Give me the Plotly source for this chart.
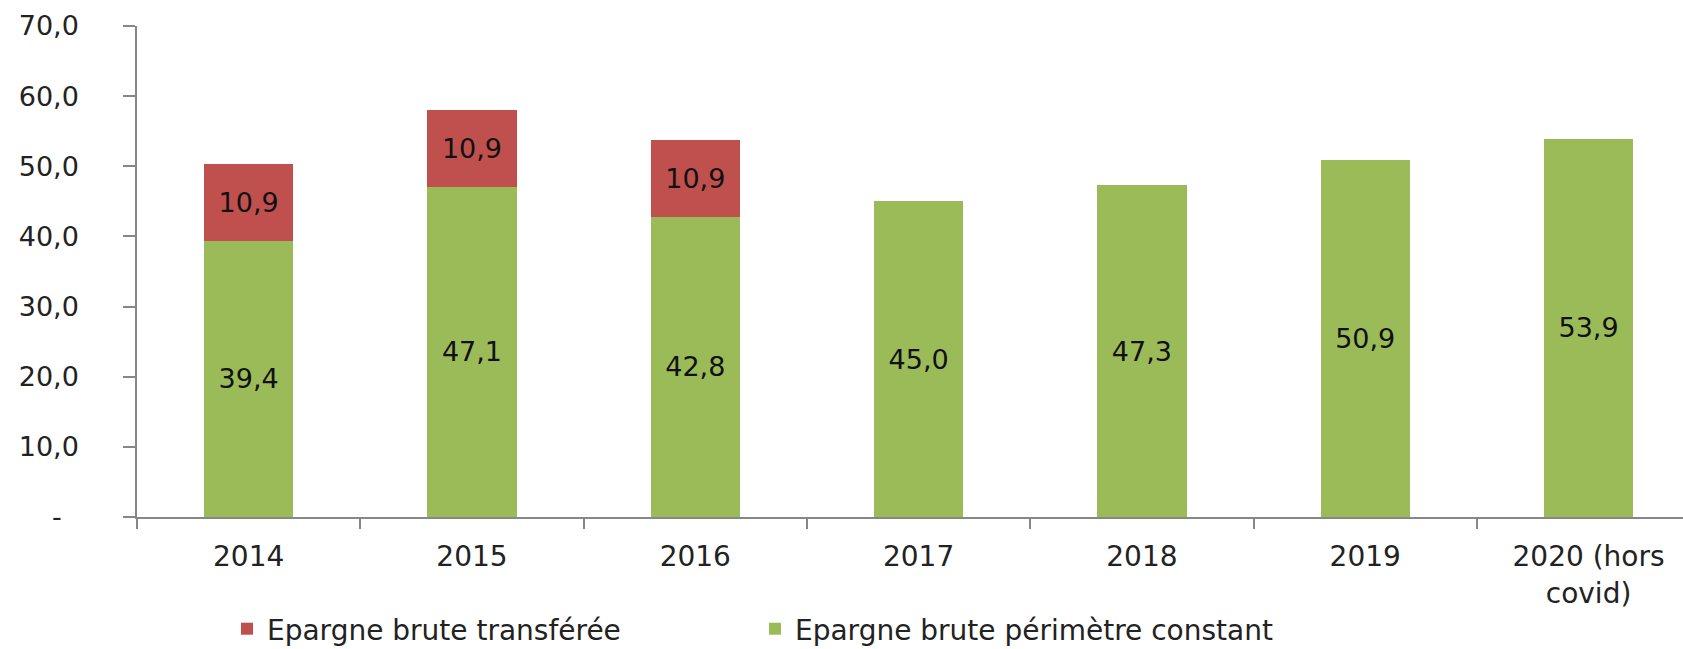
import plotly.graph_objects as go

categories = ["2014", "2015", "2016", "2017", "2018", "2019", "2020 (hors<br>covid)"]
constant_values = [39.4, 47.1, 42.8, 45.0, 47.3, 50.9, 53.9]
transferred_values = [10.9, 10.9, 10.9, None, None, None, None]
y_tick_values = [0, 10, 20, 30, 40, 50, 60, 70]
y_tick_labels = ["-\u00a0\u00a0", "10,0", "20,0", "30,0", "40,0", "50,0", "60,0", "70,0"]

GREEN = "#9BBB59"
RED = "#C0504D"
FONT = "DejaVu Sans"
AXIS = "#878787"

fig = go.Figure()
fig.add_trace(go.Bar(
    x=categories, y=constant_values, name="Epargne brute périmètre constant",
    marker=dict(color=GREEN, line=dict(width=0)),
    texttemplate="%{y:.1f}", textposition="inside", insidetextanchor="middle",
    textangle=0, constraintext="none",
    textfont=dict(family=FONT, size=27, color="#111111"),
))
fig.add_trace(go.Bar(
    x=categories, y=transferred_values, name="Epargne brute transférée",
    marker=dict(color=RED, line=dict(width=0)),
    texttemplate="%{y:.1f}", textposition="inside", insidetextanchor="middle",
    textangle=0, constraintext="none",
    textfont=dict(family=FONT, size=27, color="#111111"),
))

fig.update_layout(
    width=1683, height=649,
    barmode="stack", bargap=0.6,
    separators=", ",
    plot_bgcolor="white", paper_bgcolor="white",
    margin=dict(l=137, r=0, t=26, b=132, autoexpand=False),
    font=dict(family=FONT, size=27, color="#222222"),
    showlegend=True,
    legend=dict(
        orientation="h", traceorder="reversed",
        xref="container", yref="container",
        x=227 / 1683, xanchor="left",
        y=1 - 629 / 649, yanchor="middle",
        font=dict(family=FONT, size=28, color="#222222"),
        entrywidth=483, entrywidthmode="pixels",
        bgcolor="rgba(0,0,0,0)",
    ),
    xaxis=dict(
        range=[-0.5, 6.423], showline=True, linecolor=AXIS, linewidth=1.5,
        ticks="outside", tickson="boundaries", ticklen=10, tickcolor=AXIS, tickwidth=1.5,
        tickfont=dict(family=FONT, size=28, color="#222222"),
        ticklabelstandoff=14,
        showgrid=False, zeroline=False, fixedrange=True,
    ),
    yaxis=dict(
        range=[0, 70], tickvals=y_tick_values, ticktext=y_tick_labels,
        showline=True, linecolor=AXIS, linewidth=1.5,
        ticks="outside", ticklen=12, tickcolor=AXIS, tickwidth=1.5,
        tickfont=dict(family=FONT, size=27, color="#222222"),
        ticklabelstandoff=39,
        showgrid=False, zeroline=False, fixedrange=True,
    ),
)

fig.write_html("out.html", config={"displayModeBar": False},
               post_script="document.body.style.margin='0';")
